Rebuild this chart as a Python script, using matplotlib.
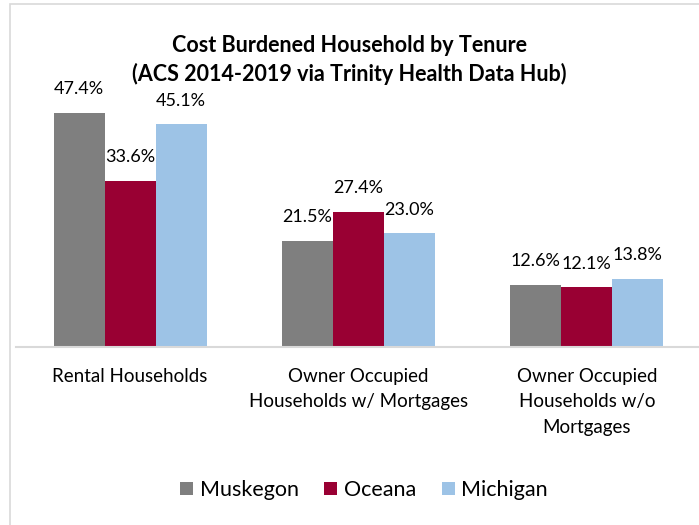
import numpy as np
import matplotlib
matplotlib.use("Agg")
import matplotlib.pyplot as plt
from matplotlib.patches import Rectangle

plt.rcParams['font.family'] = ['Lato', 'DejaVu Sans']

# data
categories = ["Rental Households",
              "Owner Occupied\nHouseholds w/ Mortgages",
              "Owner Occupied\nHouseholds w/o\nMortgages"]
series_names = ["Muskegon", "Oceana", "Michigan"]
muskegon = [47.4, 21.5, 12.6]
oceana = [33.6, 27.4, 12.1]
michigan = [45.1, 23.0, 13.8]
colors = ["#7F7F7F", "#990033", "#9DC3E6"]

fig = plt.figure(figsize=(6.99, 5.25), dpi=100)
ax = fig.add_axes([16 / 699, 178 / 525, 685 / 699, 247 / 525])

x = np.arange(len(categories))
w = 0.223
for i, (vals, name, c) in enumerate(zip([muskegon, oceana, michigan], series_names, colors)):
    bars = ax.bar(x + (i - 1) * w, vals, w, color=c, label=name)
    for b, v in zip(bars, vals):
        ax.annotate(f"{v:.1f}%", (b.get_x() + b.get_width() / 2, v),
                    xytext=(0, 17), textcoords="offset points",
                    ha="center", va="center", fontsize=13)

ax.set_xlim(-0.5, 2.5)
ax.set_ylim(0, 50)
ax.set_yticks([])
ax.set_xticks(x)
ax.set_xticklabels(categories, fontsize=13.5, linespacing=1.6)
ax.tick_params(axis="x", length=0, pad=15)
for s in ["top", "right", "left"]:
    ax.spines[s].set_visible(False)
ax.spines["bottom"].set_color("#D9D9D9")
ax.spines["bottom"].set_linewidth(1.5)

fig.text(0.5, 1 - 60 / 525, "Cost Burdened Household by Tenure\n(ACS 2014-2019 via Trinity Health Data Hub)",
         ha="center", va="center", fontsize=15.5, fontweight="bold", linespacing=1.4)

fig.legend(loc="center", bbox_to_anchor=(364 / 699, 1 - 490 / 525), ncol=3, frameon=False,
           fontsize=15.5, handlelength=0.6, handleheight=0.6, handletextpad=0.3, columnspacing=1.2)

# light chart border
fig.patches.append(Rectangle((10 / 699, -0.1), 1.0, 1 - 4 / 525 + 0.1, transform=fig.transFigure,
                             fill=False, edgecolor="#D9D9D9", linewidth=1.2))

fig.savefig("out.png", dpi=100)
